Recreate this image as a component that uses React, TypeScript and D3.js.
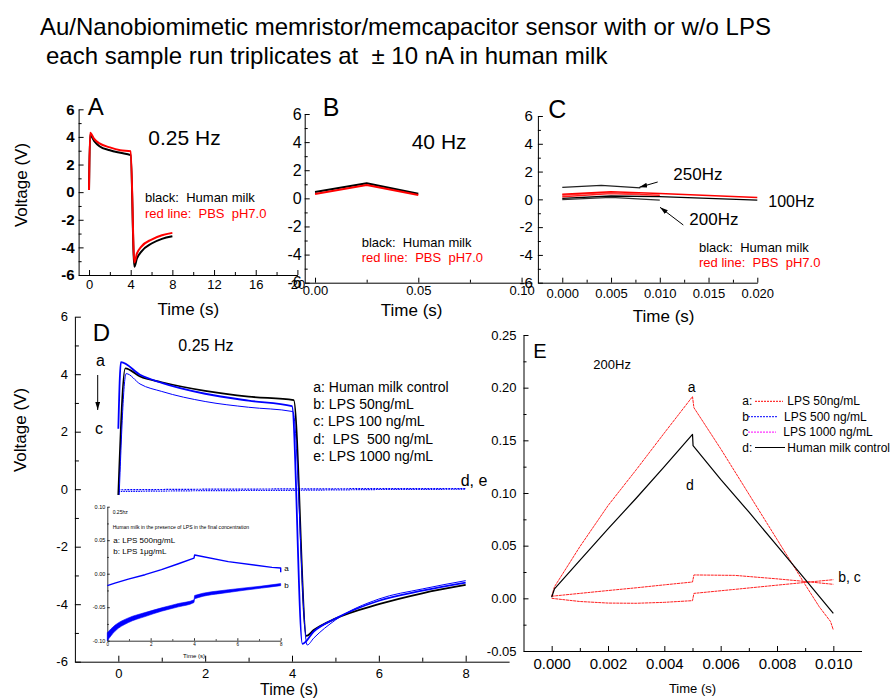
import React, { useEffect, useRef } from 'react'
import * as d3 from 'd3'

const FONT = '"Liberation Sans", Arial, Helvetica, sans-serif'

// ---- panel A : 0.25 Hz, human milk (black) vs PBS (red)
const aTime = [0, 0.1, 0.5, 1, 2, 3, 4, 4.35, 4.6, 5, 6, 7, 8]
const aMilk = [0.15, 4.15, 3.7, 3.33, 3.04, 2.85, 2.68, -5.4, -4.8, -4.32, -3.72, -3.38, -3.19]
const aPbs = [0.15, 4.3, 3.85, 3.53, 3.24, 3.04, 2.97, -5.1, -4.44, -3.96, -3.43, -3.12, -2.95]

// ---- panel B : 40 Hz
const bTime = [0, 0.025, 0.05]
const bMilk = [0.45, 1.07, 0.33]
const bPbs = [0.31, 0.95, 0.24]

// ---- panel C : 100 / 200 / 250 Hz
const c250Time = [0, 0.004, 0.008]
const c250Milk = [0.86, 1.0, 0.82]
const c250Pbs = [0.3, 0.48, 0.36]
const c200Time = [0, 0.005, 0.01]
const c200Milk = [-0.02, 0.14, -0.06]
const c200Pbs = [0.19, 0.43, 0.29]
const c100Time = [0, 0.005, 0.01, 0.02]
const c100Milk = [0.07, 0.24, 0.2, -0.05]
const c100Pbs = [0.36, 0.55, 0.43, 0.14]

// ---- panel D : 0.25 Hz with LPS
const dTimeA = [0, 0.16, 0.5, 1, 2, 3, 4.04, 4.33, 4.5, 5, 6, 7, 8]
const dMilk = [-0.2, 4.2, 3.92, 3.72, 3.42, 3.22, 3.1, -5.1, -4.9, -4.5, -4.0, -3.62, -3.33]
const dTimeB = [0, 0.06, 0.5, 1, 2, 3, 4.0, 4.24, 4.5, 5, 6, 7, 8]
const dLps50 = [2.1, 4.42, 3.98, 3.7, 3.32, 3.08, 2.89, -5.38, -4.95, -4.5, -3.88, -3.53, -3.25]
const dTimeC = [0.02, 0.18, 0.5, 1, 2, 3, 4.02, 4.35, 4.5, 5, 6, 7, 8]
const dLps100 = [-0.2, 4.02, 3.66, 3.4, 3.05, 2.85, 2.7, -5.42, -5.18, -4.55, -3.82, -3.47, -3.18]
const dTimeDE = [0, 2, 4, 6, 8]
const dLps500 = [-0.08, -0.05, -0.04, -0.01, 0.0]
const dLps1000 = [-0.02, 0.0, 0.01, 0.02, 0.02]

// ---- inset of D
const insTimeA = [0, 0.35, 0.97, 1.74, 2.5, 3.28, 4.0, 4.03, 5.58, 7.6, 8.0, 8.0]
const insLps500 = [-0.0178, -0.014, -0.008, -0.0015, 0.006, 0.0148, 0.0233, 0.028, 0.018, 0.0094, 0.0084, 0.002]
const insTimeB = [0, 0.35, 0.97, 1.74, 2.5, 3.28, 4.0, 4.03, 5.58, 7.12, 8]
const insLps1Top = [-0.088, -0.077, -0.066, -0.058, -0.051, -0.0445, -0.039, -0.0325, -0.024, -0.0185, -0.0148]
const insLps1Bot = [-0.1, -0.086, -0.073, -0.064, -0.056, -0.0495, -0.043, -0.0375, -0.028, -0.0215, -0.0178]

// ---- panel E : 200 Hz
const eTimeD = [0, 0.0001, 0.001, 0.002, 0.003, 0.004, 0.005, 0.00502, 0.006, 0.007, 0.008, 0.009, 0.01]
const eMilk = [0.001, 0.009, 0.036, 0.066, 0.095, 0.125, 0.1557, 0.145, 0.113, 0.082, 0.05, 0.018, -0.0142]
const eTimeA = [0, 0.0001, 0.001, 0.002, 0.003, 0.004, 0.005, 0.00505, 0.006, 0.007, 0.008, 0.009, 0.0095, 0.0099, 0.01]
const eLps50 = [0.002, 0.011, 0.049, 0.088, 0.122, 0.157, 0.1915, 0.181, 0.142, 0.099, 0.056, 0.013, -0.008, -0.022, -0.03]
const eTimeBC = [0, 0.001, 0.002, 0.003, 0.004, 0.005, 0.00505, 0.0065, 0.008, 0.009, 0.01]
const eLps500 = [0.002, 0.0047, 0.0074, 0.01, 0.0128, 0.0155, 0.0222, 0.0218, 0.0185, 0.016, 0.0133]
const eLps1000 = [0.0, -0.003, -0.0045, -0.0047, -0.0038, -0.0022, 0.0047, 0.0085, 0.0125, 0.0151, 0.0177]

const even = [-6, -4, -2, 0, 2, 4, 6]
const odd = [-5, -3, -1, 1, 3, 5]
const fix = (p: number) => (d: any) => (+d).toFixed(p)

function axes(svg: any, x: any, y: any, o: any) {
  const major = o.major ?? 5
  const minor = o.minor ?? 3
  const gx = svg.append('g').attr('transform', `translate(0,${y.range()[0]})`)
  gx.call(d3.axisBottom(x).tickValues(o.xMajor).tickSize(-major).tickSizeOuter(0).tickPadding(o.xPad).tickFormat(o.xFmt))
  gx.append('g')
    .call(d3.axisBottom(x).tickValues(o.xMinor).tickSize(-minor).tickSizeOuter(0).tickFormat(() => ''))
    .select('.domain').remove()
  const gy = svg.append('g').attr('transform', `translate(${x.range()[0]},0)`)
  gy.call(d3.axisLeft(y).tickValues(o.yMajor).tickSize(-major).tickSizeOuter(0).tickPadding(o.yPad).tickFormat(o.yFmt))
  gy.append('g')
    .call(d3.axisLeft(y).tickValues(o.yMinor).tickSize(-minor).tickSizeOuter(0).tickFormat(() => ''))
    .select('.domain').remove()
  for (const g of [gx, gy]) {
    g.selectAll('path, line').attr('stroke', '#000').attr('stroke-width', o.sw ?? 1)
  }
  gx.selectAll('text').attr('font-family', FONT).attr('font-size', o.xSize).attr('fill', '#000')
  gy.selectAll('text').attr('font-family', FONT).attr('font-size', o.ySize).attr('fill', '#000')
    .attr('font-weight', o.yBold ? 'bold' : null)
}

function txt(svg: any, x: number, y: number, s: string, size: number, fill = '#000', anchor = 'start') {
  return svg.append('text').attr('x', x).attr('y', y).attr('font-family', FONT).attr('font-size', size)
    .attr('fill', fill).attr('text-anchor', anchor).style('white-space', 'pre').text(s)
}

function ylabel(svg: any, x: number, y: number, s: string, size: number) {
  svg.append('text').attr('transform', `translate(${x},${y}) rotate(-90)`).attr('font-family', FONT)
    .attr('font-size', size).attr('text-anchor', 'middle').text(s)
}

function curve(svg: any, x: any, y: any, t: number[], v: number[], color: string, w: number, dash: string | null = null, c: any = d3.curveMonotoneX) {
  const line = d3.line<[number, number]>().x(d => x(d[0])).y(d => y(d[1])).curve(c)
  svg.append('path').attr('d', line(d3.zip(t, v) as any)).attr('fill', 'none').attr('stroke', color)
    .attr('stroke-width', w).attr('stroke-dasharray', dash).attr('stroke-linejoin', 'round')
}

export default function App() {
  const ref = useRef<SVGSVGElement>(null)

  useEffect(() => {
    const svg = d3.select(ref.current)
    svg.selectAll('*').remove()

    const defs = svg.append('defs')
    defs.append('marker').attr('id', 'arr').attr('viewBox', '0 0 10 6').attr('refX', 10).attr('refY', 3)
      .attr('markerWidth', 8).attr('markerHeight', 4.8).attr('orient', 'auto')
      .append('path').attr('d', 'M0,0 L10,3 L0,6 z').attr('fill', '#000')

    // titles
    txt(svg, 40, 35, 'Au/Nanobiomimetic memristor/memcapacitor sensor with or w/o LPS', 24)
    txt(svg, 46, 64, 'each sample run triplicates at  \u00B1 10 nA in human milk', 24)

    // ---------- A
    {
      const x = d3.scaleLinear([-1, 20], [78.6, 297.4])
      const y = d3.scaleLinear([-6, 6], [275, 109.3])
      axes(svg, x, y, {
        xMajor: [0, 4, 8, 12, 16, 20], xMinor: [2, 6, 10, 14, 18], yMajor: even, yMinor: odd,
        xFmt: fix(0), yFmt: fix(0), xSize: 13, ySize: 15, xPad: 5, yPad: 4, yBold: true,
      })
      curve(svg, x, y, aTime, aMilk, '#000', 2)
      curve(svg, x, y, aTime, aPbs, '#ff0000', 2)
      txt(svg, 87.7, 115, 'A', 24)
      txt(svg, 148.3, 145, '0.25 Hz', 21)
      txt(svg, 145, 202.3, 'black:  Human milk', 13)
      txt(svg, 145, 217.7, 'red line:  PBS  pH7.0', 13, '#ff0000')
      txt(svg, 188.3, 315, 'Time (s)', 17, '#000', 'middle')
      ylabel(svg, 26.7, 185, 'Voltage (V)', 17)
    }

    // ---------- B
    {
      const x = d3.scaleLinear([-0.005, 0.105], [304.7, 531.9])
      const y = d3.scaleLinear([-6, 6], [282.7, 114])
      axes(svg, x, y, {
        xMajor: [0, 0.05, 0.1], xMinor: [0.025, 0.075], yMajor: even, yMinor: odd,
        xFmt: fix(2), yFmt: fix(0), xSize: 13, ySize: 16, xPad: 3, yPad: 3,
      })
      curve(svg, x, y, bTime, bMilk, '#000', 2, null, d3.curveLinear)
      curve(svg, x, y, bTime, bPbs, '#ff0000', 2, null, d3.curveLinear)
      txt(svg, 322.7, 116, 'B', 25)
      txt(svg, 411.7, 149.3, '40 Hz', 21)
      txt(svg, 361.7, 247.3, 'black:  Human milk', 13)
      txt(svg, 361.7, 262.3, 'red line:  PBS  pH7.0', 13, '#ff0000')
      txt(svg, 411.7, 316, 'Time (s)', 17, '#000', 'middle')
    }

    // ---------- C
    {
      const x = d3.scaleLinear([-0.0025, 0.02], [537.9, 757.3])
      const y = d3.scaleLinear([-6, 6], [282.7, 116])
      axes(svg, x, y, {
        xMajor: [0, 0.005, 0.01, 0.015, 0.02], xMinor: [0.0025, 0.0075, 0.0125, 0.0175], yMajor: even, yMinor: odd,
        xFmt: fix(3), yFmt: fix(0), xSize: 13, ySize: 15, xPad: 6, yPad: 5,
      })
      curve(svg, x, y, c100Time, c100Milk, '#000', 1.3, null, d3.curveLinear)
      curve(svg, x, y, c200Time, c200Milk, '#333', 1.3, null, d3.curveLinear)
      curve(svg, x, y, c250Time, c250Milk, '#222', 1.3, null, d3.curveLinear)
      curve(svg, x, y, c200Time, c200Pbs, '#ff2020', 1.5, null, d3.curveLinear)
      curve(svg, x, y, c250Time, c250Pbs, '#ff4040', 1.5, null, d3.curveLinear)
      curve(svg, x, y, c100Time, c100Pbs, '#ff0000', 1.5, null, d3.curveLinear)
      txt(svg, 548.3, 117.7, 'C', 25)
      txt(svg, 673.3, 180, '250Hz', 17)
      txt(svg, 768.3, 207.3, '100Hz', 16)
      txt(svg, 689.3, 224.7, '200Hz', 17)
      svg.append('line').attr('x1', 657.7).attr('y1', 182).attr('x2', 639.3).attr('y2', 187.3)
        .attr('stroke', '#000').attr('stroke-width', 1).attr('marker-end', 'url(#arr)')
      svg.append('line').attr('x1', 683.3).attr('y1', 225).attr('x2', 660).attr('y2', 207.3)
        .attr('stroke', '#000').attr('stroke-width', 1).attr('marker-end', 'url(#arr)')
      txt(svg, 699, 251.7, 'black:  Human milk', 13)
      txt(svg, 699, 267.3, 'red line:  PBS  pH7.0', 13, '#ff0000')
      txt(svg, 663.7, 322.3, 'Time (s)', 17, '#000', 'middle')
    }

    // ---------- D
    {
      const x = d3.scaleLinear([-1, 9], [74.9, 509.1])
      const y = d3.scaleLinear([-6, 6], [661.7, 316.7])
      axes(svg, x, y, {
        xMajor: [0, 2, 4, 6, 8], xMinor: [1, 3, 5, 7], yMajor: even, yMinor: odd,
        xFmt: fix(0), yFmt: fix(0), xSize: 13, ySize: 13, xPad: 7, yPad: 7, major: 6, minor: 4,
      })
      curve(svg, x, y, dTimeDE, dLps500, '#0000ff', 1.2, '1.5 1', d3.curveLinear)
      curve(svg, x, y, dTimeDE, dLps1000, '#0000ff', 1.2, '2 1', d3.curveLinear)
      curve(svg, x, y, dTimeA, dMilk, '#000', 1.8)
      curve(svg, x, y, dTimeB, dLps50, '#0000ff', 1.8)
      curve(svg, x, y, dTimeC, dLps100, '#0000ff', 1)
      txt(svg, 92.7, 340.7, 'D', 24)
      txt(svg, 178.3, 350.7, '0.25 Hz', 16)
      txt(svg, 96, 366, 'a', 16)
      txt(svg, 95, 434, 'c', 16)
      svg.append('line').attr('x1', 97.7).attr('y1', 375).attr('x2', 97.7).attr('y2', 410)
        .attr('stroke', '#000').attr('stroke-width', 1).attr('marker-end', 'url(#arr)')
      const leg = ['a: Human milk control', 'b: LPS 50ng/mL', 'c: LPS 100 ng/mL', 'd:  LPS  500 ng/mL', 'e: LPS 1000 ng/mL']
      leg.forEach((s, i) => txt(svg, 313.3, 391.7 + i * 17.3, s, 14))
      txt(svg, 460.7, 486, 'd, e', 16)
      txt(svg, 289, 695, 'Time (s)', 16, '#000', 'middle')
      ylabel(svg, 26, 430, 'Voltage (V)', 17)

      // inset
      const ix = d3.scaleLinear([0, 8], [107.3, 280.7])
      const iy = d3.scaleLinear([-0.1, 0.1], [640.7, 506.7])
      axes(svg, ix, iy, {
        xMajor: [0, 2, 4, 6, 8], xMinor: [1, 3, 5, 7], yMajor: [-0.1, -0.05, 0, 0.05, 0.1], yMinor: [-0.075, -0.025, 0.025, 0.075],
        xFmt: fix(0), yFmt: fix(2), xSize: 4.5, ySize: 5.5, xPad: 2, yPad: 2, major: 2.5, minor: 1.5, sw: 0.8,
      })
      const band = d3.area<number>().x((d, i) => ix(insTimeB[i])).y0((d, i) => iy(insLps1Bot[i])).y1(d => iy(d))
        .curve(d3.curveMonotoneX)
      svg.append('path').attr('d', band(insLps1Top)).attr('fill', '#0000ff').attr('stroke', '#0000ff').attr('stroke-width', 0.6)
      curve(svg, ix, iy, insTimeA, insLps500, '#0000ff', 1.4, null, d3.curveLinear)
      txt(svg, 112.7, 514.3, '0.25hz', 5)
      txt(svg, 112.7, 528.7, 'Human milk in the presence of LPS in the final concentration', 5.1)
      txt(svg, 113.3, 543.3, 'a: LPS 500ng/mL', 8)
      txt(svg, 113.3, 553.7, 'b: LPS 1\u03BCg/mL', 8)
      txt(svg, 284.3, 571, 'a', 8)
      txt(svg, 284.3, 588.3, 'b', 8)
      txt(svg, 194, 658.3, 'Time (s)', 6, '#000', 'middle')
    }

    // ---------- E
    {
      const x = d3.scaleLinear([-0.001, 0.011], [523.5, 861.5])
      const y = d3.scaleLinear([-0.05, 0.25], [651, 335])
      axes(svg, x, y, {
        xMajor: [0, 0.002, 0.004, 0.006, 0.008, 0.01], xMinor: [0.001, 0.003, 0.005, 0.007, 0.009],
        yMajor: [-0.05, 0, 0.05, 0.1, 0.15, 0.2, 0.25], yMinor: [-0.025, 0.025, 0.075, 0.125, 0.175, 0.225],
        xFmt: fix(3), yFmt: fix(2), xSize: 15, ySize: 13, xPad: 7, yPad: 7,
      })
      curve(svg, x, y, eTimeBC, eLps500, '#ff2020', 1, '3 0.6', d3.curveLinear)
      curve(svg, x, y, eTimeBC, eLps1000, '#ff2020', 1, '3 0.6', d3.curveLinear)
      curve(svg, x, y, eTimeA, eLps50, '#ff2020', 1, '3 0.6', d3.curveLinear)
      curve(svg, x, y, eTimeD, eMilk, '#000', 1.2, null, d3.curveLinear)
      txt(svg, 533.3, 358.3, 'E', 20)
      txt(svg, 593.3, 369, '200Hz', 13)
      txt(svg, 691.7, 391.7, 'a', 14, '#000', 'middle')
      txt(svg, 690, 490, 'd', 14, '#000', 'middle')
      txt(svg, 838.3, 581.7, 'b, c', 14)
      const rows = [
        { k: 'a:', s: 'LPS 50ng/mL', c: '#ff0000', d: '2 1', x0: 755, x1: 783, tx: 787.3 },
        { k: 'b', s: 'LPS 500 ng/mL', c: '#0000ff', d: '2 1', x0: 748, x1: 778, tx: 784 },
        { k: 'c', s: 'LPS 1000 ng/mL', c: '#ff00ff', d: '2 1', x0: 748, x1: 776, tx: 783.3 },
        { k: 'd:', s: 'Human milk control', c: '#000', d: null, x0: 755, x1: 785, tx: 787.3 },
      ]
      rows.forEach((r, i) => {
        const yy = 405.3 + i * 15.4
        txt(svg, 742.3, yy, r.k, 12)
        svg.append('line').attr('x1', r.x0).attr('x2', r.x1).attr('y1', yy - 4).attr('y2', yy - 4)
          .attr('stroke', r.c).attr('stroke-width', 1).attr('stroke-dasharray', r.d)
        txt(svg, r.tx, yy, r.s, 12)
      })
      txt(svg, 692.5, 693.3, 'Time (s)', 13, '#000', 'middle')
    }
  }, [])

  return (
    <svg
      ref={ref}
      width={893}
      height={698}
      style={{ position: 'absolute', left: 0, top: 0, background: '#fff' }}
    ></svg>
  )
}
